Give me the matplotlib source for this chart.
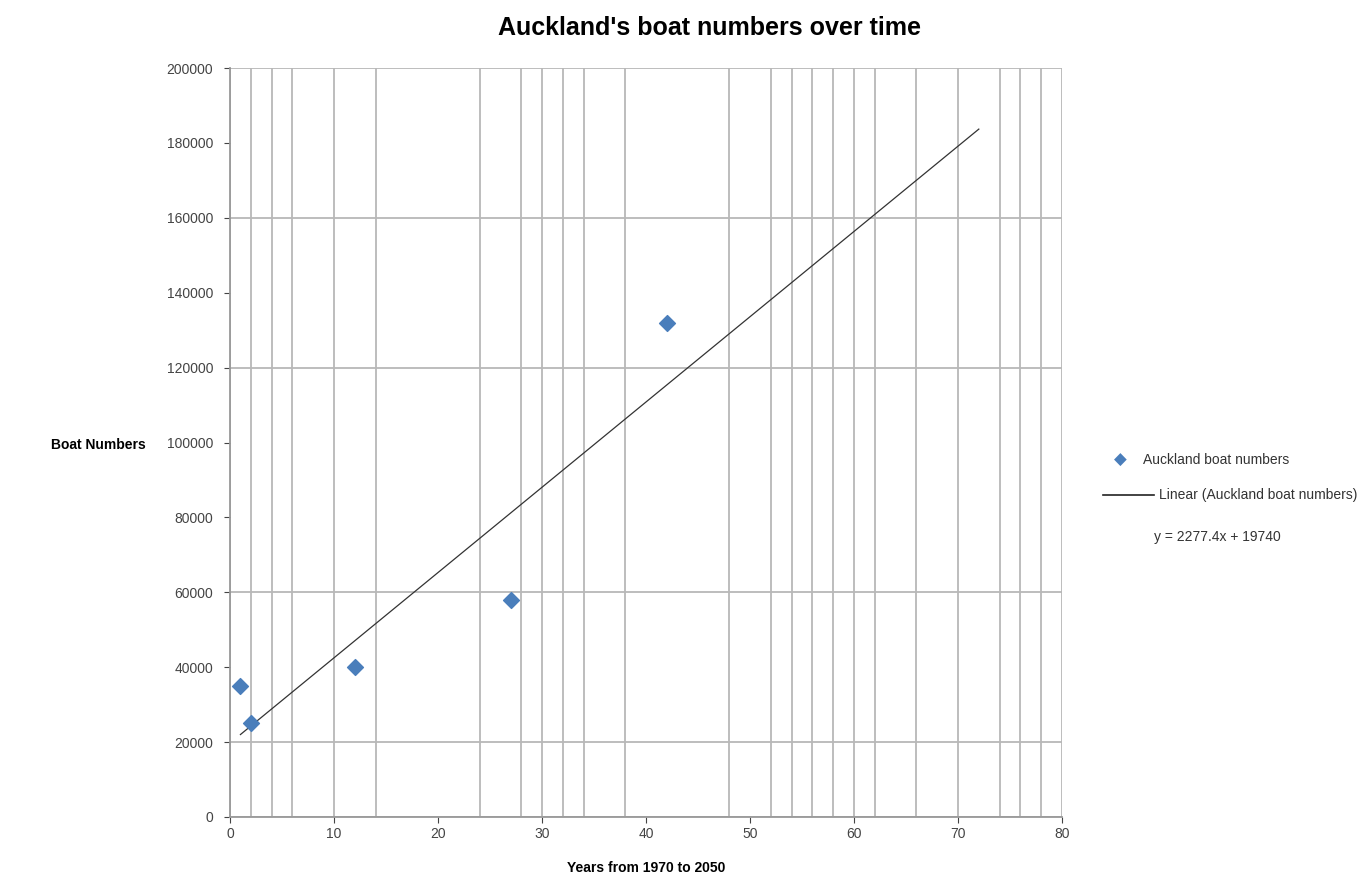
import numpy as np
import matplotlib
matplotlib.use("Agg")
import matplotlib.pyplot as plt

plt.rcParams['font.family'] = ['Liberation Sans', 'DejaVu Sans']

# boat numbers (years since 1970)
years = [1, 2, 12, 27, 42]
boats = [35000, 25000, 40000, 58000, 132000]

# gridlines as they show in the original sheet
xgrid = [0, 2, 4, 6, 10, 14, 24, 28, 30, 32, 34, 38, 48, 52, 54, 56, 58, 60, 62, 66, 70, 74, 76, 78, 80]
ygrid = [0, 20000, 60000, 120000, 160000, 200000]
yticks = list(range(0, 200001, 20000))
xticks = list(range(0, 81, 10))

# linear trend, forecast out to year 72
m, b = np.polyfit(years, boats, 1)
tx = np.array([1, 72])
ty = m * tx + b

fig = plt.figure(figsize=(13.7, 8.8), dpi=100)
ax = fig.add_axes([0.1679, 0.0716, 0.6073, 0.851])

for gx in xgrid:
    ax.axvline(gx, color="#b8b8b8", lw=1.3, zorder=0)
for gy in ygrid:
    ax.axhline(gy, color="#b8b8b8", lw=1.3, zorder=0)

ax.plot(tx, ty, color="#333333", lw=0.9, zorder=2)
ax.scatter(years, boats, marker="D", s=65, color="#4a7ebb", zorder=3)

ax.set_xlim(0, 80)
ax.set_ylim(0, 200000)
ax.set_xticks(xticks)
ax.set_yticks(yticks)
ax.tick_params(labelsize=10, colors="#444444", length=4)
ax.tick_params(axis="y", pad=8)
for s in ["top", "right"]:
    ax.spines[s].set_visible(False)
for s in ["left", "bottom"]:
    ax.spines[s].set_color("#999999")
    ax.spines[s].set_linewidth(1.3)

fig.text(0.518, 0.968, "Auckland's boat numbers over time", ha="center", va="center",
         fontsize=18, fontweight="bold")
fig.text(0.037, 0.494, "Boat Numbers", ha="left", va="center", fontsize=10, fontweight="bold")
ax.set_xlabel("Years from 1970 to 2050", fontsize=10, fontweight="bold", labelpad=14)

# legend drawn by hand, text runs off the right edge like the original
fig.text(0.818, 0.477, "\u25C6", color="#4a7ebb", fontsize=12, ha="center", va="center")
fig.text(0.834, 0.477, "Auckland boat numbers", fontsize=10, va="center", color="#333333")
fig.add_artist(plt.Line2D([0.805, 0.842], [0.438, 0.438], color="#222222", lw=1.2))
fig.text(0.846, 0.438, "Linear (Auckland boat numbers)", fontsize=10, va="center", color="#333333")
fig.text(0.842, 0.39, "y = %.1fx + %.0f" % (m, b), fontsize=10, va="center", color="#333333")

fig.savefig("out.png", dpi=100)
